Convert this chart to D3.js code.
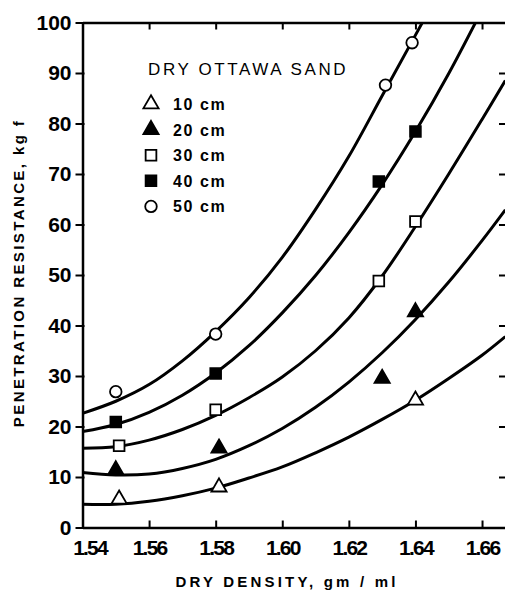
<!DOCTYPE html>
<html>
<head>
<meta charset="utf-8">
<script src="https://cdn.jsdelivr.net/npm/d3@7/dist/d3.min.js"></script>
<style>
body { margin: 0; background: #fff; }
text { font-family: "Liberation Sans", Arial, sans-serif; fill: #000; }
</style>
</head>
<body>
<div id="chart"></div>
<script>
// depth series, legend order
const depths = ["10 cm", "20 cm", "30 cm", "40 cm", "50 cm"];
const symbolKind = ["triangle", "triangle", "square", "square", "circle"];
const symbolFilled = [false, true, false, true, false];

// fitted curves at every 0.01 of dry density
const curveX = [1.54, 1.55, 1.56, 1.57, 1.58, 1.59, 1.60, 1.61, 1.62, 1.63, 1.64, 1.65, 1.66, 1.667];
const curve10 = [4.6, 4.6, 5.2, 6.3, 7.8, 9.8, 12.0, 14.8, 17.9, 21.4, 25.2, 29.5, 34.1, 37.8];
const curve20 = [10.9, 10.4, 10.6, 11.7, 13.5, 16.2, 19.6, 23.8, 28.8, 34.6, 41.2, 48.6, 56.8, 62.9];
const curve30 = [15.7, 16.0, 17.3, 19.4, 22.2, 25.7, 29.8, 35.0, 41.5, 49.8, 59.6, 70.0, 80.8, 88.5];
const curve40 = [19.0, 20.4, 22.8, 26.2, 30.6, 36.0, 42.5, 49.9, 58.4, 67.9, 78.4, 89.9, 102.5];
const curve50 = [22.6, 25.0, 28.3, 33.0, 38.8, 45.5, 53.5, 63.0, 73.5, 85.5, 97.5, 109.5];

// measured points
const points10 = [[1.551, 5.6], [1.581, 8.0], [1.640, 25.2]];
const points20 = [[1.550, 11.4], [1.581, 15.7], [1.630, 29.5], [1.640, 42.7]];
const points30 = [[1.551, 16.2], [1.580, 23.3], [1.629, 48.8], [1.640, 60.6]];
const points40 = [[1.550, 20.9], [1.580, 30.5], [1.629, 68.5], [1.640, 78.4]];
const points50 = [[1.550, 26.9], [1.580, 38.3], [1.631, 87.6], [1.639, 96.0]];

const xTicks = [1.54, 1.56, 1.58, 1.60, 1.62, 1.64, 1.66];
const xTickLabels = ["1.54", "1.56", "1.58", "1.60", "1.62", "1.64", "1.66"];
const yTicks = [0, 10, 20, 30, 40, 50, 60, 70, 80, 90, 100];

const curves = [curve10, curve20, curve30, curve40, curve50];
const points = [points10, points20, points30, points40, points50];

const width = 505, height = 590;
const plotLeft = 82.5, plotRight = 507, plotTop = 22.5, plotBottom = 527.5;

const svg = d3.select("#chart").append("svg")
    .attr("width", width)
    .attr("height", height);

const x = d3.scaleLinear().domain([1.54, 1.6675]).range([plotLeft, plotRight]);
const y = d3.scaleLinear().domain([0, 100]).range([plotBottom, plotTop]);

svg.append("clipPath").attr("id", "plot")
  .append("rect")
    .attr("x", plotLeft).attr("y", plotTop)
    .attr("width", plotRight - plotLeft).attr("height", plotBottom - plotTop);

// curves
const line = d3.line()
    .x(d => x(d[0]))
    .y(d => y(d[1]))
    .curve(d3.curveCatmullRom.alpha(0.5));

svg.append("g").attr("clip-path", "url(#plot)")
  .selectAll("path")
  .data(curves)
  .enter().append("path")
    .attr("d", c => line(c.map((v, i) => [curveX[i], v])))
    .attr("fill", "none")
    .attr("stroke", "#000")
    .attr("stroke-width", 3);

// axes
const axisStyle = g => {
    g.select(".domain").attr("stroke", "#000").attr("stroke-width", 2.5);
    g.selectAll(".tick line").attr("stroke", "#000").attr("stroke-width", 2);
};

svg.append("g")
    .attr("transform", `translate(${plotLeft},0)`)
    .call(d3.axisLeft(y).tickValues(yTicks).tickSize(7).tickSizeOuter(0).tickPadding(4))
    .call(axisStyle)
    .call(g => g.selectAll(".tick line").attr("x2", -7).attr("x1", 2))
    .call(g => g.selectAll(".tick text")
        .attr("font-size", 21).attr("font-family", null).attr("font-weight", "bold"));

svg.append("g")
    .attr("transform", `translate(0,${plotBottom})`)
    .call(d3.axisBottom(x).tickValues(xTicks).tickSize(-7).tickSizeOuter(0).tickPadding(13)
        .tickFormat((d, i) => xTickLabels[i]))
    .call(axisStyle)
    .call(g => g.selectAll(".tick text")
        .attr("font-size", 21).attr("font-family", null).attr("font-weight", "bold")
        .attr("letter-spacing", -1.8)
        .attr("dx", (d, i) => i === 0 ? 7 : 0));

svg.append("g")
    .attr("transform", `translate(0,${plotTop})`)
    .call(d3.axisTop(x).tickValues(xTicks.slice(1)).tickSize(-7).tickSizeOuter(0).tickFormat(""))
    .call(axisStyle);

svg.append("g")
    .attr("transform", `translate(${plotRight},0)`)
    .call(d3.axisRight(y).tickValues(yTicks.slice(1, -1)).tickSize(-8).tickSizeOuter(0).tickFormat(""))
    .call(axisStyle);

// markers
function marker(sel, k) {
    const type = symbolKind[k] === "triangle" ? d3.symbolTriangle
        : symbolKind[k] === "square" ? d3.symbolSquare : d3.symbolCircle;
    const size = symbolKind[k] === "triangle" ? 100 : symbolKind[k] === "square" ? 115 : 105;
    sel.attr("d", d3.symbol().type(type).size(size)())
        .attr("fill", symbolFilled[k] ? "#000" : "#fff")
        .attr("stroke", "#000")
        .attr("stroke-width", 1.8);
}

points.forEach((pts, k) => {
    svg.append("g").selectAll("path")
      .data(pts)
      .enter().append("path")
        .attr("transform", d => `translate(${x(d[0])},${y(d[1])})`)
        .call(marker, k);
});

// legend
const legend = svg.append("g");
legend.append("text")
    .attr("x", 148).attr("y", 75)
    .attr("font-size", 17)
    .attr("letter-spacing", 2.6)
    .text("DRY OTTAWA SAND");

depths.forEach((name, k) => {
    const ly = 104 + k * 25.6;
    legend.append("path")
        .attr("transform", `translate(151,${ly})`)
        .call(marker, k);
    legend.append("text")
        .attr("x", 173).attr("y", ly + 6)
        .attr("font-size", 16)
        .attr("font-weight", "bold")
        .attr("letter-spacing", 1.6)
        .text(name);
});

// axis titles
svg.append("text")
    .attr("transform", "translate(24,273) rotate(-90)")
    .attr("text-anchor", "middle")
    .attr("font-size", 15)
    .attr("font-weight", "bold")
    .attr("letter-spacing", 2.4)
    .text("PENETRATION RESISTANCE, kg f");

svg.append("text")
    .attr("x", 287).attr("y", 587)
    .attr("text-anchor", "middle")
    .attr("font-size", 15)
    .attr("font-weight", "bold")
    .attr("letter-spacing", 3.2)
    .text("DRY DENSITY, gm / ml");
</script>
</body>
</html>
